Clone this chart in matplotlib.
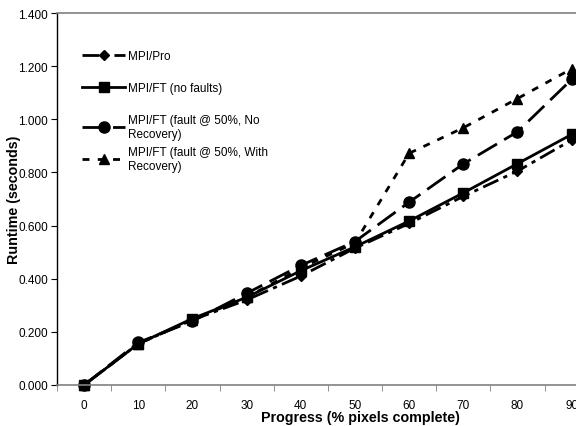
import matplotlib
matplotlib.use("Agg")
import matplotlib.pyplot as plt
from matplotlib.ticker import FixedLocator
from matplotlib.legend import Legend
from matplotlib.legend_handler import HandlerLine2D

plt.rcParams['font.family'] = ['Liberation Sans', 'DejaVu Sans']

progress = [0, 10, 20, 30, 40, 50, 60, 70, 80, 90]
mpi_pro = [0.0, 0.155, 0.245, 0.320, 0.410, 0.515, 0.608, 0.710, 0.805, 0.922]
mpi_ft = [0.0, 0.155, 0.250, 0.330, 0.430, 0.520, 0.617, 0.723, 0.833, 0.943]
ft_norec = [0.0, 0.160, 0.240, 0.345, 0.450, 0.540, 0.688, 0.832, 0.953, 1.150]
ft_rec = [0.0, 0.155, 0.245, 0.330, 0.440, 0.535, 0.872, 0.968, 1.078, 1.190]

labels = ["MPI/Pro", "MPI/FT (no faults)",
          "MPI/FT (fault @ 50%, No\nRecovery)",
          "MPI/FT (fault @ 50%, With\nRecovery)"]
yticks = [0.0, 0.2, 0.4, 0.6, 0.8, 1.0, 1.2, 1.4]

W, H = 576, 427
L, R, T, B = 57, 576, 14, 386
fig = plt.figure(figsize=(W / 100, H / 100), dpi=100)
ax = fig.add_axes([L / W, 1 - B / H, (R - L) / W, (B - T) / H])

lw = 2.0
l1, = ax.plot(progress, mpi_pro, color='black', lw=lw, ls=(0, (6, 2, 1.5, 2)), marker='D', ms=5, clip_on=False)
l2, = ax.plot(progress, mpi_ft, color='black', lw=lw, ls='-', marker='s', ms=6.5, clip_on=False)
l3, = ax.plot(progress, ft_norec, color='black', lw=lw, ls=(0, (8, 3)), marker='o', ms=8, clip_on=False)
l4, = ax.plot(progress, ft_rec, color='black', lw=lw, ls=(0, (2.5, 3)), marker='^', ms=6.5, clip_on=False)

ax.set_xlim(-5, 90.8)
ax.set_ylim(0, 1.4)
ax.set_xticks(progress)
ax.set_xticklabels([str(p) for p in progress])
ax.xaxis.set_minor_locator(FixedLocator([-5, 5, 15, 25, 35, 45, 55, 65, 75, 85]))
ax.tick_params(axis='x', which='major', length=0, labelsize=8.5, pad=10)
ax.tick_params(axis='x', which='minor', length=4, direction='out', color='#808080')
ax.set_yticks(yticks)
ax.set_yticklabels([f"{v:.3f}" for v in yticks])
ax.tick_params(axis='y', length=4, direction='out', labelsize=8.5, pad=2.5)

for s in ['top', 'bottom']:
    ax.spines[s].set_color('#808080')
    ax.spines[s].set_linewidth(1.2)
ax.spines['left'].set_color('black')
ax.spines['left'].set_linewidth(1.0)
ax.spines['right'].set_visible(False)

ax.set_xlabel("Progress (% pixels complete)", fontsize=10.3, fontweight='bold')
ax.xaxis.set_label_coords((360 - L) / (R - L), -(411 - B) / (B - T))
ax.set_ylabel("Runtime (seconds)", fontsize=10.3, fontweight='bold')
ax.yaxis.set_label_coords(-(L - 21) / (R - L), 0.5)

# legend entries (one legend per entry, placed like the original)
entries = [(l1, labels[0], 57, False), (l2, labels[1], 89, False),
           (l3, labels[2], 121, True), (l4, labels[3], 153, True)]
lx = (82 - L) / (R - L)
for line, lab, ypx, two in entries:
    yc = ypx + (7 if two else 0)
    hm = {line: HandlerLine2D(ypad=1.2)} if two else {}
    lg = Legend(ax, [line], [lab], loc='center left',
                bbox_to_anchor=(lx, (B - yc) / (B - T)), frameon=False,
                fontsize=8.5, handlelength=3.65, handletextpad=0.25,
                borderpad=0, borderaxespad=0, handler_map=hm)
    ax.add_artist(lg)

fig.savefig("out.png", dpi=100)
